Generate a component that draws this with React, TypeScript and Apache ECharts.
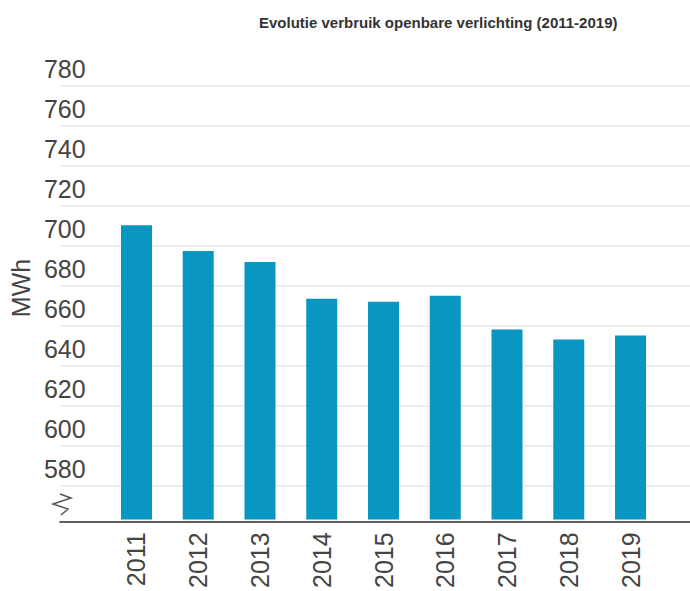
import React, { useEffect, useRef } from "react";
import * as echarts from "echarts";

const years = ["2011", "2012", "2013", "2014", "2015", "2016", "2017", "2018", "2019"];
const consumption = [710, 697, 691.5, 673, 671.5, 674.5, 657.5, 652.5, 654.5];
const axisMin = 562;
const axisMax = 780;
const tickStep = 20;
const titleText = "Evolutie verbruik openbare verlichting (2011-2019)";
const unitName = "MWh";

const FONT = 'Arial, "Liberation Sans", sans-serif';

export default function App() {
  const ref = useRef<HTMLDivElement>(null);
  useEffect(() => {
    if (!ref.current) return;
    const chart = echarts.init(ref.current, null, { renderer: "svg" });
    chart.setOption({
      animation: false,
      backgroundColor: "#ffffff",
      title: {
        text: titleText,
        left: 254,
        top: 10,
        textStyle: { fontFamily: FONT, fontSize: 15, fontWeight: "bold", color: "#333333" },
      },
      grid: [
        { left: 38, right: 0, top: 86, bottom: 69 },
        { left: 105.6, right: 28.6, top: 86, bottom: 69 },
      ],
      xAxis: [
        {
          gridIndex: 0,
          type: "value",
          min: 0,
          max: 1,
          axisLine: { show: true, onZero: false, lineStyle: { color: "#333333", width: 1.5 } },
          axisTick: { show: false },
          axisLabel: { show: false },
          splitLine: { show: false },
        },
        {
          gridIndex: 1,
          type: "category",
          data: years,
          axisLine: { show: false },
          axisTick: { show: false },
          axisLabel: {
            rotate: 90,
            margin: 13,
            fontFamily: FONT,
            fontSize: 25,
            color: "#444444",
          },
        },
      ],
      yAxis: [
        {
          gridIndex: 0,
          type: "value",
          min: axisMin,
          max: axisMax,
          minInterval: tickStep,
          maxInterval: tickStep,
          name: unitName,
          nameLocation: "middle",
          nameRotate: 90,
          nameGap: 21,
          nameTextStyle: { fontFamily: FONT, fontSize: 25, color: "#444444", padding: [0, 0, 0, 32] },
          axisLine: { show: false },
          axisTick: { show: false },
          axisLabel: {
            inside: true,
            margin: -16,
            align: "left",
            verticalAlign: "bottom",
            padding: [0, 0, 5, 0],
            fontFamily: FONT,
            fontSize: 25,
            color: "#444444",
            formatter: (v: number) => (v % tickStep === 0 ? String(v) : ""),
          },
          splitLine: { show: true, lineStyle: { color: "#e8e8e8", width: 1.5 } },
        },
        {
          gridIndex: 1,
          type: "value",
          min: axisMin,
          max: axisMax,
          show: false,
          splitLine: { show: false },
        },
      ],
      series: [
        {
          type: "bar",
          xAxisIndex: 1,
          yAxisIndex: 1,
          data: consumption,
          barWidth: 31,
          itemStyle: { color: "#0896c3" },
        },
      ],
      graphic: [
        {
          type: "polyline",
          shape: { points: [[60, 494], [71, 498], [53, 504], [68, 509], [61, 515]] },
          style: { stroke: "#555555", lineWidth: 1.5, fill: "none" },
        },
      ],
    });
    return () => chart.dispose();
  }, []);
  return (
    <div
      ref={ref}
      style={{ position: "absolute", left: 0, top: 0, width: 690, height: 591 }}
    />
  );
}
